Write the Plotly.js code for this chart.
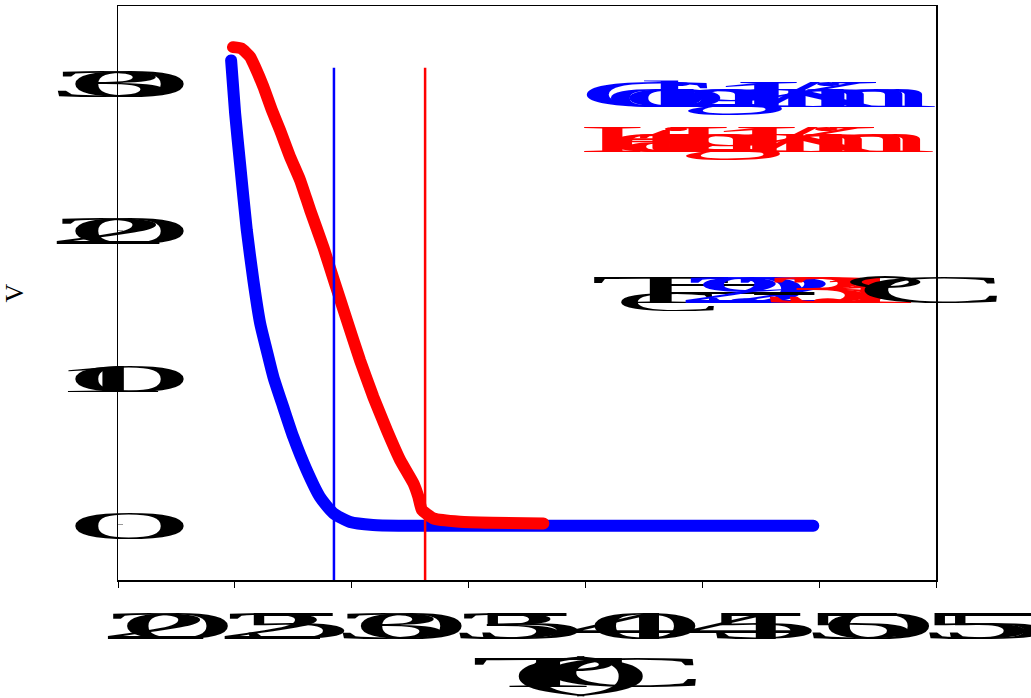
<!DOCTYPE html>
<html>
<head>
<meta charset="utf-8">
<script src="https://cdn.plot.ly/plotly-3.0.1.min.js"></script>
<style>
html,body{margin:0;padding:0;background:#fff;}
#chart{width:1031px;height:698px;}
#chart .js-line{stroke-linecap:round;stroke-linejoin:round;}
</style>
</head>
<body>
<div id="chart"></div>
<script>
// ---- data ----
const coolingT = [24.84, 25.01, 25.22, 25.51, 25.79, 26.08, 26.36, 26.65, 27.07, 27.50, 28.07, 28.64, 29.21, 29.93, 30.91, 32.0, 35.0, 40.0, 45.0, 49.75];
const coolingV = [31.5, 27.93, 24.54, 20.0, 16.61, 13.69, 11.86, 10.03, 8.0, 5.97, 3.73, 1.9, 0.81, 0.2, 0.0, -0.05, -0.05, -0.05, -0.05, -0.05];
const heatingT = [24.92, 25.29, 25.65, 25.86, 26.22, 26.58, 26.93, 27.36, 27.79, 28.22, 28.78, 29.28, 29.79, 30.35, 30.92, 31.50, 32.07, 32.64, 32.85, 33.0, 33.49, 34.63, 36.0, 38.2];
const heatingV = [32.4, 32.3, 31.75, 31.07, 29.72, 28.14, 26.78, 24.97, 23.39, 21.36, 18.87, 16.39, 13.9, 11.19, 8.7, 6.44, 4.41, 2.83, 1.92, 1.02, 0.45, 0.22, 0.15, 0.1];
const tcCooling = 29.24;
const tcHeating = 33.14;
const tcLineTop = 31;
const seriesNames = ['Cooling 1 K/min', 'Heating 1 K/min'];
const xTicks = [20, 25, 30, 35, 40, 45, 50, 55];
const yTicks = [0, 10, 20, 30];
const xRange = [20, 55];
const yRange = [-3.73, 35.19];

const BLUE = '#0000ff', RED = '#ff0000';
const SERIF = 'Liberation Serif, Times New Roman, serif';

const traces = [
  {x: coolingT, y: coolingV, name: seriesNames[0], mode: 'lines',
   line: {color: BLUE, width: 12, shape: 'spline', smoothing: 0.6}},
  {x: heatingT, y: heatingV, name: seriesNames[1], mode: 'lines',
   line: {color: RED, width: 12, shape: 'spline', smoothing: 0.4}}
];

const layout = {
  width: 1031, height: 698,
  margin: {l: 118, r: 95, t: 6, b: 118},
  paper_bgcolor: '#fff', plot_bgcolor: '#fff',
  showlegend: false,
  font: {family: SERIF, color: '#000'},
  xaxis: {
    range: xRange, tickvals: xTicks, ticktext: xTicks.map(String),
    ticks: 'outside', ticklen: 6, tickwidth: 1, tickcolor: '#000',
    showline: true, linecolor: '#000', linewidth: 1.5, mirror: true,
    showgrid: false, zeroline: false,
    tickfont: {family: SERIF, size: 41, color: '#000'},
    ticklabelstandoff: 2,
    title: {text: 'T (°C)', font: {family: SERIF, size: 44, color: '#000'}, standoff: 6}
  },
  yaxis: {
    range: yRange, tickvals: yTicks, ticktext: yTicks.map(String),
    ticks: 'inside', ticklen: 5, tickwidth: 1, tickcolor: '#999',
    showline: true, linecolor: '#000', linewidth: 1.5, mirror: true,
    showgrid: false, zeroline: false,
    tickfont: {family: SERIF, size: 40, color: '#000'},
    ticklabelstandoff: 23,
    title: {text: 'V', font: {family: SERIF, size: 26, color: '#000'}, standoff: 36}
  },
  shapes: [
    {type: 'line', xref: 'x', yref: 'y', x0: tcCooling, x1: tcCooling, y0: yRange[0], y1: tcLineTop,
     line: {color: BLUE, width: 2.5}},
    {type: 'line', xref: 'x', yref: 'y', x0: tcHeating, x1: tcHeating, y0: yRange[0], y1: tcLineTop,
     line: {color: RED, width: 2.5}}
  ],
  annotations: [
    {xref: 'paper', yref: 'paper', x: 0.56, y: 0.845, xanchor: 'left', yanchor: 'middle',
     text: seriesNames[0], showarrow: false, font: {family: SERIF, size: 37, color: BLUE}},
    {xref: 'paper', yref: 'paper', x: 0.56, y: 0.768, xanchor: 'left', yanchor: 'middle',
     text: seriesNames[1], showarrow: false, font: {family: SERIF, size: 37, color: RED}},
    {xref: 'paper', yref: 'paper', x: 0.5746, y: 0.502, xanchor: 'left', yanchor: 'middle',
     text: 'T<sub>C</sub> = <span style="color:' + BLUE + '">' + tcCooling.toFixed(1) + '</span>-<span style="color:' + RED + '">' + tcHeating.toFixed(1) + '</span> °C',
     showarrow: false, font: {family: SERIF, size: 40, color: '#000'}}
  ]
};

// horizontally stretch every glyph about its own origin, keeping the normal advances
function stretchGlyphs(el, s) {
  const n = el.getNumberOfChars();
  if (!n) return;
  const P = [];
  for (let i = 0; i < n; i++) P.push(el.getStartPositionOfChar(i).x);
  const a = P[0];
  const dx = ['0'];
  for (let i = 1; i < n; i++) dx.push(((P[i] - P[i - 1]) * (1 / s - 1)).toFixed(3));
  el.setAttribute('text-anchor', 'start');
  el.setAttribute('x', a);
  el.setAttribute('dx', dx.join(' '));
  const t = el.getAttribute('transform') || '';
  el.setAttribute('transform', t + ' translate(' + a + ',0) scale(' + s + ',1) translate(' + (-a) + ',0)');
}

Plotly.newPlot('chart', traces, layout, {staticPlot: true}).then(function (gd) {
  gd.querySelectorAll('.xtick text, .xtitle, .annotation-text').forEach(function (el) {
    stretchGlyphs(el, 5.8);
  });
  gd.querySelectorAll('.ytick text').forEach(function (el) {
    stretchGlyphs(el, 6.4);
  });
});
</script>
</body>
</html>
